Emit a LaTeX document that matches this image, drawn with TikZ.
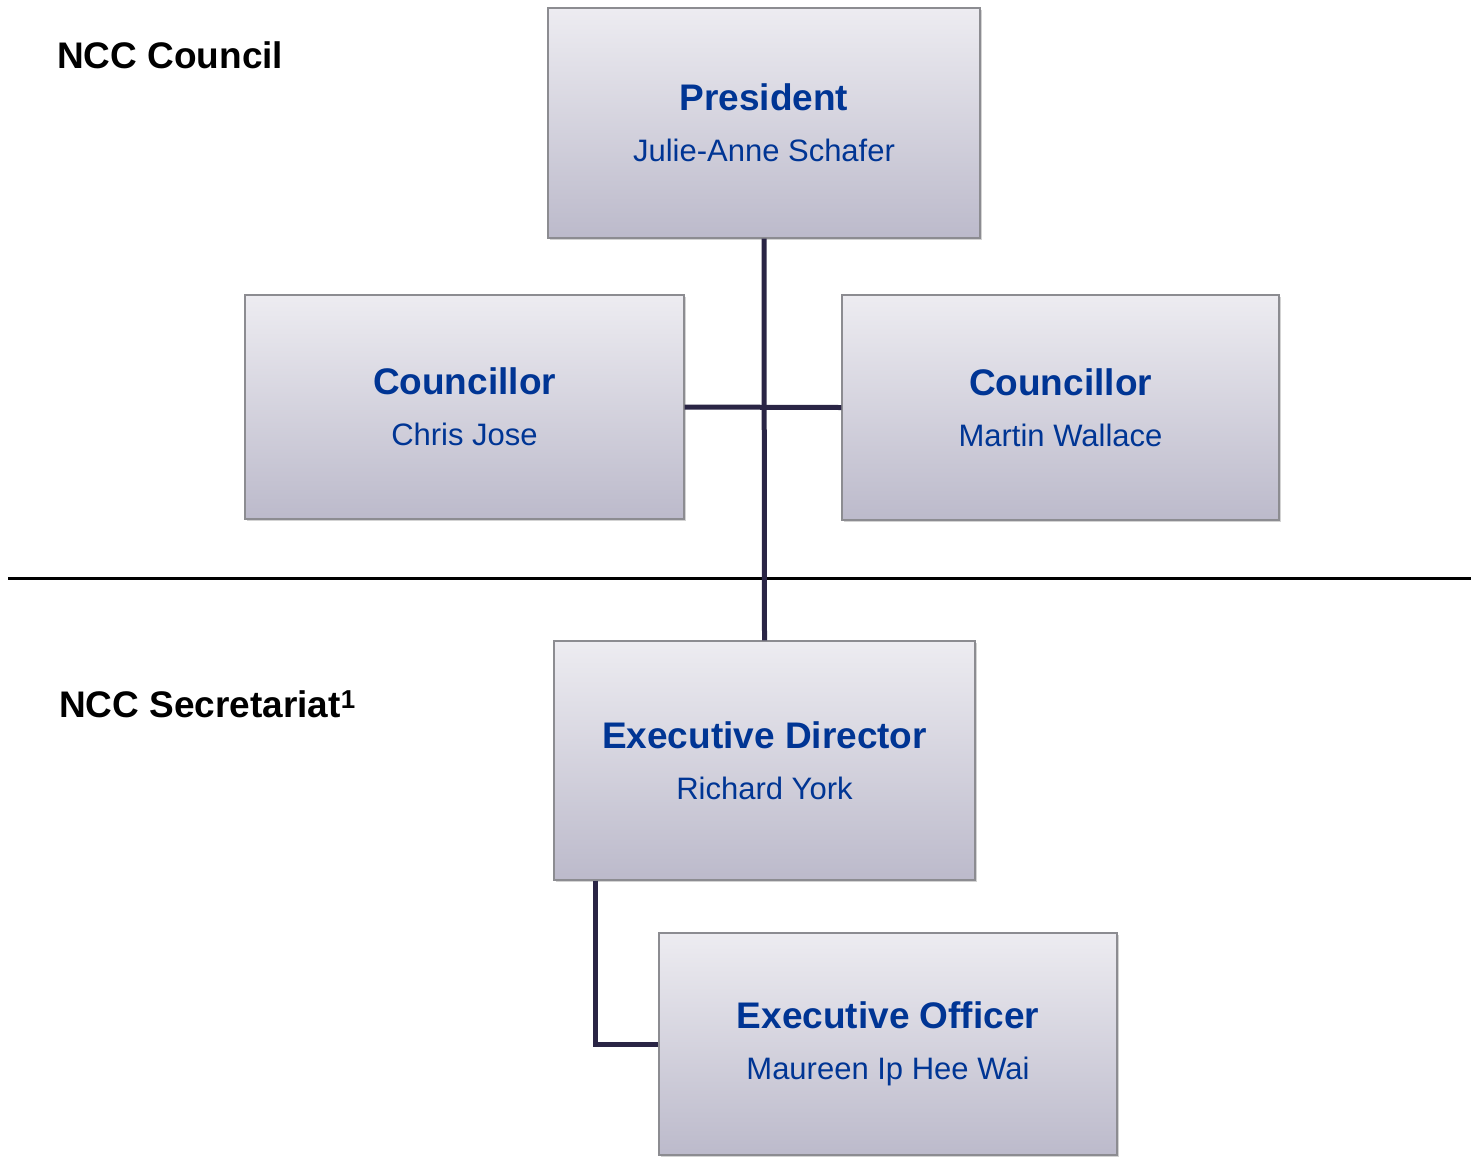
\documentclass[tikz,border=0pt]{standalone}
\usepackage{fontspec}
\setmainfont{Liberation Sans}
\usetikzlibrary{shadows}
\definecolor{boxtop}{RGB}{237,236,241}
\definecolor{boxbot}{RGB}{188,186,203}
\definecolor{boxline}{RGB}{140,140,145}
\definecolor{titleblue}{RGB}{0,53,148}
\definecolor{conncol}{RGB}{42,37,69}
\tikzset{
  orgbox/.style={draw=boxline, line width=1.2pt, top color=boxtop, bottom color=boxbot,
    rectangle, inner sep=0pt, align=center, text=titleblue,
    font=\fontsize{31}{51}\selectfont,
    drop shadow={shadow xshift=2pt, shadow yshift=-2pt, opacity=0.35}},
  conn/.style={draw=conncol, line width=5pt},
  sepline/.style={draw=black, line width=3pt},
  heading/.style={anchor=west, inner sep=0pt, font=\fontsize{37}{44}\selectfont\bfseries}
}
\newcommand{\orgtitle}[1]{{\fontsize{37}{51}\selectfont\bfseries #1}}
\begin{document}
\begin{tikzpicture}[x=1pt,y=-1pt]
\useasboundingbox (0,0) rectangle (1479,1157);
\node[orgbox, minimum width=432pt, minimum height=230pt] (pres) at (764,123) {\orgtitle{President}\\Julie-Anne Schafer};
\node[orgbox, minimum width=439pt, minimum height=224pt] (cl) at (464.5,407) {\orgtitle{Councillor}\\Chris Jose};
\node[orgbox, minimum width=437pt, minimum height=225pt] (cr) at (1060.5,407.5) {\orgtitle{Councillor}\\Martin Wallace};
\node[orgbox, minimum width=421pt, minimum height=239pt] (ed) at (764.5,760.5) {\orgtitle{Executive Director}\\Richard York};
\node[orgbox, minimum width=458pt, minimum height=222pt] (eo) at (888,1044) {\orgtitle{Executive Officer}\\Maureen Ip Hee Wai};
\node[heading] (council) at (57,55) {NCC Council};
\node[heading] (secr) at (59,704) {NCC Secretariat\textsuperscript{1}};
\coordinate (sepL) at (8,578);
\coordinate (sepR) at (1471,578);
\begin{scope}[on background layer/.try]
\end{scope}
\draw[sepline] (sepL) -- (sepR);
\draw[conn] (cl.east) -- (cr.west);
\draw[conn] (pres.south) -- (ed.north);
\draw[conn] ([xshift=42pt]ed.south west) |- (eo.west);
\end{tikzpicture}
\end{document}
